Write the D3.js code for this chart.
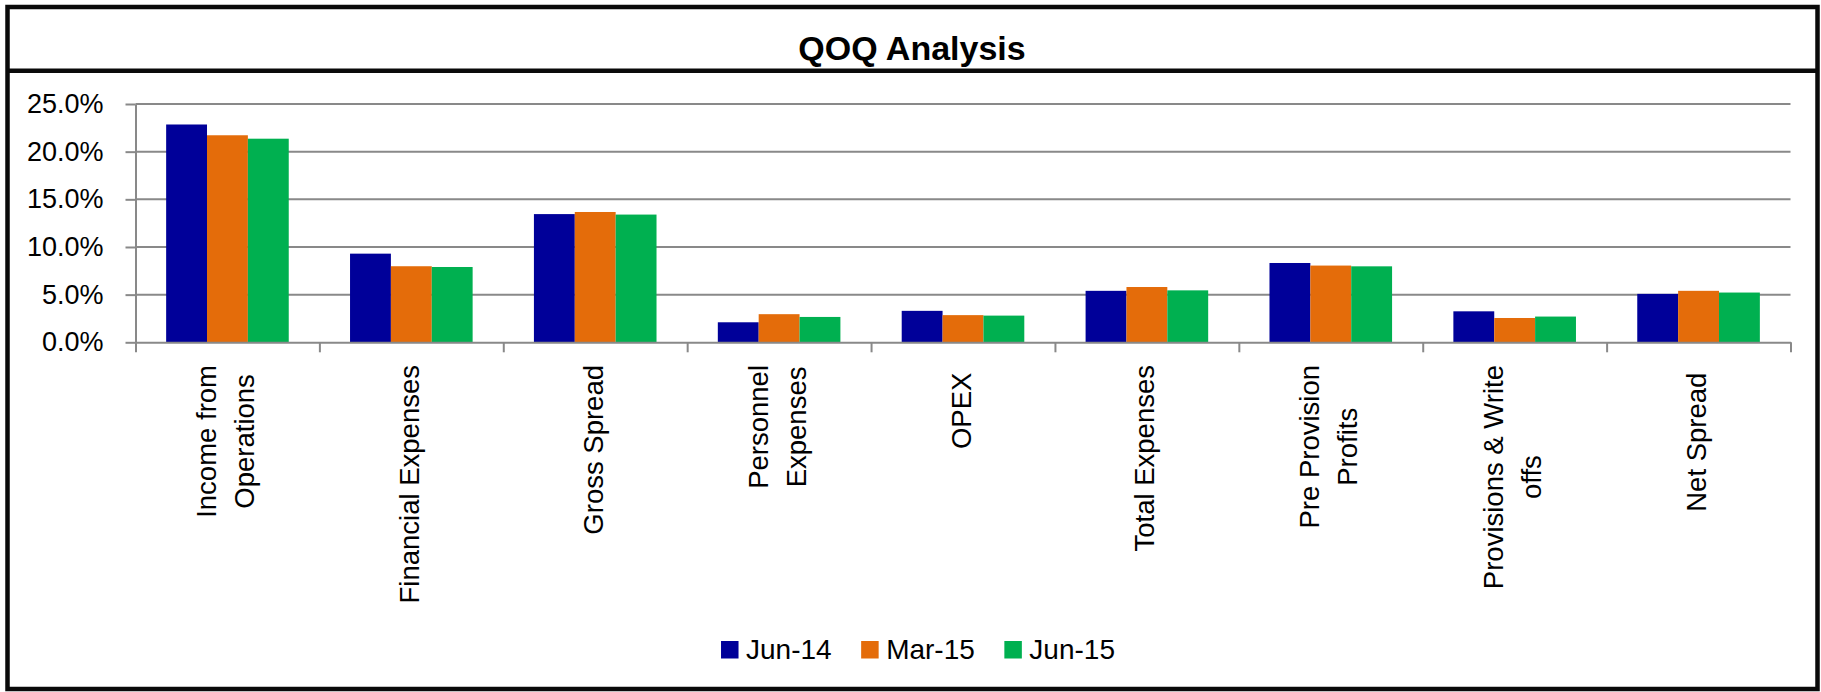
<!DOCTYPE html>
<html><head><meta charset="utf-8">
<script src="https://cdn.jsdelivr.net/npm/d3@7"></script>
<style>
html,body{margin:0;padding:0;background:#fff;}
svg{display:block;}
text{font-family:"Liberation Sans", Arial, sans-serif;fill:#000;}
</style></head><body>
<svg id="chart" width="1821" height="692"></svg>
<script>
// ---- data ----
const title = "QOQ Analysis";
const categories = ["Income from\nOperations", "Financial Expenses", "Gross Spread", "Personnel\nExpenses", "OPEX ", "Total Expenses", "Pre Provision\nProfits", "Provisions & Write\noffs", "Net Spread "];
const seriesNames = ["Jun-14", "Mar-15", "Jun-15"];
const seriesColors = ["#000099", "#E46C0A", "#00B050"];
const jun14 = [22.85, 9.30, 13.45, 2.10, 3.30, 5.40, 8.32, 3.25, 5.08];
const mar15 = [21.72, 7.98, 13.67, 2.95, 2.85, 5.80, 8.05, 2.55, 5.40];
const jun15 = [21.36, 7.90, 13.40, 2.66, 2.80, 5.45, 7.97, 2.70, 5.22];
const yTicks = [0, 5, 10, 15, 20, 25];

const seriesValues = [jun14, mar15, jun15];

// ---- layout ----
const svg = d3.select("#chart");
const plotLeft = 135.5, plotRight = 1790.5, plotTop = 104, plotBottom = 342.3;
const gridColor = "#898989";

// frame
svg.append("rect").attr("x", 7.5).attr("y", 7).attr("width", 1810).attr("height", 682)
  .attr("fill", "none").attr("stroke", "#0a0a0a").attr("stroke-width", 4.5);
svg.append("line").attr("x1", 7.5).attr("x2", 1817.5).attr("y1", 70.8).attr("y2", 70.8)
  .attr("stroke", "#0a0a0a").attr("stroke-width", 4.5);

// title
svg.append("text").attr("x", 912).attr("y", 60).attr("text-anchor", "middle")
  .style("font-size", "34px").style("font-weight", "bold").text(title);

// scales
const x0 = d3.scaleBand().domain(categories).range([plotLeft, plotRight]).padding(0);
const x1 = d3.scaleBand().domain(seriesNames).range([0, x0.bandwidth()]).paddingInner(0).paddingOuter(0.75);
const y = d3.scaleLinear().domain([0, 25]).range([plotBottom, plotTop]);
const xb = d3.scalePoint().domain(d3.range(categories.length + 1)).range([plotLeft, plotRight]);

// gridlines
svg.append("g").selectAll("line").data(yTicks.filter(d => d > 0)).join("line")
  .attr("x1", plotLeft).attr("x2", plotRight)
  .attr("y1", d => y(d)).attr("y2", d => y(d))
  .attr("stroke", gridColor).attr("stroke-width", 2);

// bars
const groups = svg.append("g").selectAll("g").data(categories).join("g")
  .attr("transform", c => `translate(${x0(c)},0)`);
groups.selectAll("rect").data((c, i) => seriesNames.map((s, k) => ({s, k, v: seriesValues[k][i]})))
  .join("rect")
  .attr("x", d => x1(d.s)).attr("width", x1.bandwidth())
  .attr("y", d => y(d.v)).attr("height", d => y(0) - y(d.v))
  .attr("fill", d => seriesColors[d.k]);

// y axis
const yAxis = svg.append("g").attr("transform", `translate(${plotLeft},0)`)
  .call(d3.axisLeft(y).tickValues(yTicks).tickSize(10).tickSizeOuter(0).tickPadding(22)
    .tickFormat(d => d.toFixed(1) + "%"));
yAxis.select(".domain").attr("stroke", gridColor).attr("stroke-width", 2);
yAxis.selectAll(".tick line").attr("stroke", gridColor).attr("stroke-width", 2);
yAxis.selectAll(".tick text").style("font-size", "27px").style("font-family", "Liberation Sans, Arial, sans-serif").attr("fill", "#000");

// x axis (tick marks at category boundaries)
const xAxis = svg.append("g").attr("transform", `translate(0,${plotBottom})`)
  .call(d3.axisBottom(xb).tickSize(10).tickSizeOuter(0).tickFormat(""));
xAxis.select(".domain").attr("stroke", gridColor).attr("stroke-width", 2);
xAxis.selectAll(".tick line").attr("stroke", gridColor).attr("stroke-width", 2);

// category labels (rotated, wrapped lines centered)
const labelTop = 365, pitch = 38, baseOff = 7.5;
categories.forEach(c => {
  const lines = c.split("\n");
  const g = svg.append("g").attr("transform", `translate(${x0(c) + x0.bandwidth() / 2},${labelTop}) rotate(-90)`);
  const texts = lines.map((ln, i) => g.append("text")
    .attr("xml:space", "preserve").style("white-space", "pre")
    .style("font-size", "27.5px")
    .attr("y", baseOff + (i - (lines.length - 1) / 2) * pitch)
    .attr("text-anchor", "middle").text(ln));
  const maxLen = d3.max(texts, t => t.node().getComputedTextLength());
  texts.forEach(t => t.attr("x", -maxLen / 2));
});

// legend
const legend = svg.append("g");
const items = seriesNames.map((s, k) => {
  const g = legend.append("g");
  g.append("rect").attr("width", 17.5).attr("height", 17.5).attr("y", 641).attr("fill", seriesColors[k]);
  const t = g.append("text").attr("x", 25).attr("y", 658.5).style("font-size", "28px").text(s);
  return {g, w: 25 + t.node().getComputedTextLength()};
});
const gap = 29.5;
const total = d3.sum(items, d => d.w) + gap * (items.length - 1);
let lx = 918 - total / 2;
items.forEach(it => { it.g.attr("transform", `translate(${lx},0)`); lx += it.w + gap; });
</script>
</body></html>
